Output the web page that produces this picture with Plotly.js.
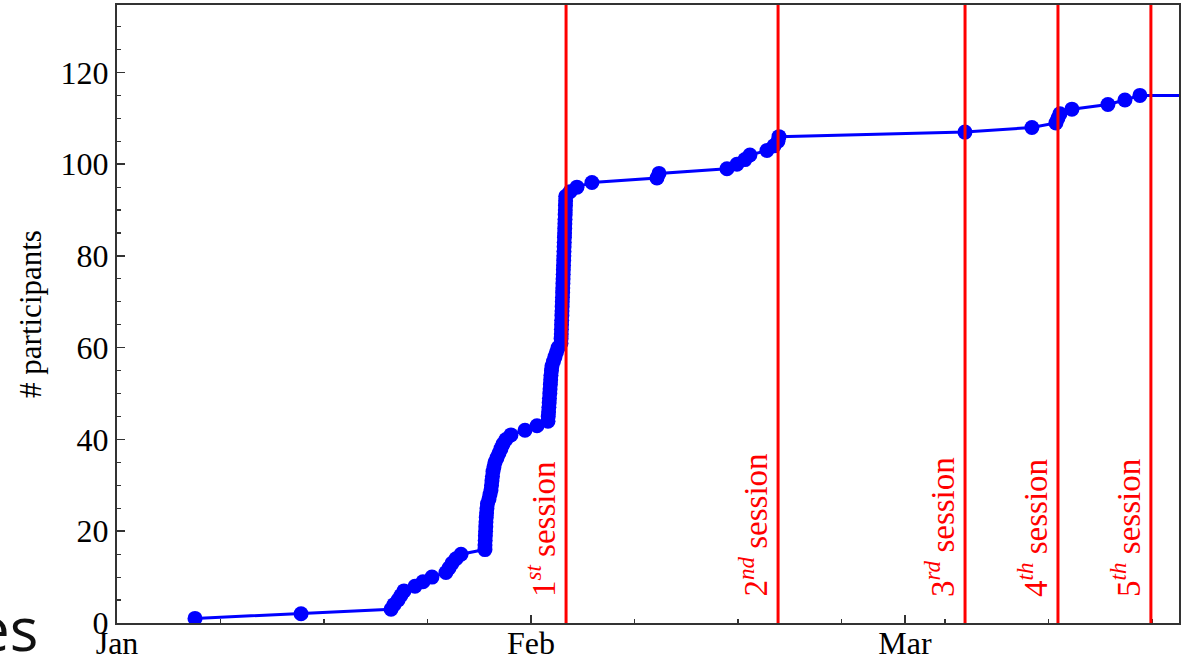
<!DOCTYPE html>
<html>
<head>
<meta charset="utf-8">
<script src="https://cdn.plot.ly/plotly-3.0.1.min.js"></script>
<style>html,body{margin:0;padding:0;background:#fff;}#chart{width:1189px;height:658px;}</style>
</head>
<body>
<div id="chart"></div>
<script>
// registration timestamps
const regDates = [
"2013-01-06 20:10","2013-01-14 18:45","2013-01-21 12:30","2013-01-21 17:45","2013-01-22 01:00",
"2013-01-22 06:15","2013-01-22 11:45","2013-01-23 07:30","2013-01-23 21:50","2013-01-24 14:00",
"2013-01-25 15:10","2013-01-25 20:40","2013-01-26 02:00","2013-01-26 09:10","2013-01-26 18:15",
"2013-01-28 13:15","2013-01-28 13:20","2013-01-28 13:40","2013-01-28 14:00","2013-01-28 14:20",
"2013-01-28 14:45","2013-01-28 15:05","2013-01-28 15:35","2013-01-28 16:10","2013-01-28 16:50",
"2013-01-28 17:45","2013-01-28 20:30","2013-01-28 22:15","2013-01-29 00:05","2013-01-29 01:00",
"2013-01-29 01:50","2013-01-29 02:45","2013-01-29 03:40","2013-01-29 05:25","2013-01-29 07:15",
"2013-01-29 10:50","2013-01-29 14:25","2013-01-29 18:00","2013-01-29 21:35","2013-01-30 03:00",
"2013-01-30 12:00","2013-01-31 13:10","2013-02-01 10:45","2013-02-02 06:30","2013-02-02 07:00",
"2013-02-02 07:35","2013-02-02 08:05","2013-02-02 08:40","2013-02-02 09:10","2013-02-02 09:45",
"2013-02-02 10:15","2013-02-02 10:50","2013-02-02 11:20","2013-02-02 11:50","2013-02-02 12:45",
"2013-02-02 13:40","2013-02-02 16:20","2013-02-02 19:00","2013-02-02 21:45","2013-02-03 00:30",
"2013-02-03 05:50","2013-02-03 06:05","2013-02-03 06:25","2013-02-03 06:40","2013-02-03 06:55",
"2013-02-03 07:10","2013-02-03 07:30","2013-02-03 07:45","2013-02-03 08:00","2013-02-03 08:15",
"2013-02-03 08:35","2013-02-03 08:50","2013-02-03 09:05","2013-02-03 09:20","2013-02-03 09:40",
"2013-02-03 09:55","2013-02-03 10:10","2013-02-03 10:25","2013-02-03 10:45","2013-02-03 11:00",
"2013-02-03 11:15","2013-02-03 11:30","2013-02-03 11:45","2013-02-03 12:05","2013-02-03 12:20",
"2013-02-03 12:35","2013-02-03 12:50","2013-02-03 13:05","2013-02-03 13:25","2013-02-03 13:40",
"2013-02-03 13:55","2013-02-03 14:10","2013-02-03 14:25","2013-02-03 22:00","2013-02-04 10:35",
"2013-02-05 13:30","2013-02-10 10:20","2013-02-10 14:00","2013-02-15 16:10","2013-02-16 10:05",
"2013-02-17 00:30","2013-02-17 09:25","2013-02-18 16:00","2013-02-19 04:35","2013-02-19 11:45",
"2013-02-19 13:35","2013-03-05 11:50","2013-03-10 12:10","2013-03-12 07:20","2013-03-12 10:55",
"2013-03-12 14:30","2013-03-13 12:05","2013-03-16 04:45","2013-03-17 11:20","2013-03-18 14:15"
];
// cumulative number of participants at each timestamp
const regCounts = [
1,2,3,4,5,6,7,8,9,10,11,12,13,14,15,16,17,18,19,20,
21,22,23,24,25,26,27,28,29,30,31,32,33,34,35,36,37,38,39,40,
41,42,43,44,45,46,47,48,49,50,51,52,53,54,55,56,57,58,59,60,
61,62,63,64,65,66,67,68,69,70,71,72,73,74,75,76,77,78,79,80,
81,82,83,84,85,86,87,88,89,90,91,92,93,94,95,96,97,98,99,100,
101,102,103,104,105,106,107,108,109,110,111,112,113,114,115
];
// line continues flat after the last registration
const tailDates = ["2013-03-18 14:15","2013-03-31 00:00"];
const tailCounts = [115,115];

const sessionDates = ["2013-02-03 15:00","2013-02-19 12:00","2013-03-05 12:00","2013-03-12 11:00","2013-03-19 10:00"];
const sessionNums = ["1","2","3","4","5"];
const sessionSuffix = ["st","nd","rd","th","th"];

const monthTickVals = ["2013-01-01","2013-02-01","2013-03-01"];
const monthTickText = ["Jan","Feb","Mar"];
const xRange = ["2013-01-01 00:00","2013-03-21 12:30"];
const yRange = [0, 134.7];

const serif = "Liberation Serif, Times New Roman, serif";

const traces = [
  {x: tailDates, y: tailCounts, type: "scatter", mode: "lines",
   line: {color: "#0000ff", width: 3}, hoverinfo: "skip", showlegend: false},
  {x: regDates, y: regCounts, type: "scatter", mode: "lines+markers",
   line: {color: "#0000ff", width: 3},
   marker: {color: "#0000ff", size: 15, line: {width: 0}}, showlegend: false}
];

const shapes = sessionDates.map(d => ({
  type: "line", xref: "x", yref: "paper", x0: d, x1: d, y0: 0, y1: 1,
  line: {color: "#ff0000", width: 3}, layer: "above"
}));

const annotations = sessionDates.map((d, i) => ({
  x: d, xref: "x", y: 0, yref: "y", xanchor: "right", yanchor: "bottom",
  xshift: -2, yshift: 24, textangle: -90, showarrow: false,
  text: sessionNums[i] + "<sup><i>" + sessionSuffix[i] + "</i></sup> session",
  font: {family: serif, size: 33, color: "#ff0000"}
}));
annotations.push({
  x: -0.0725, xref: "paper", y: -0.008, yref: "paper", xanchor: "right", yanchor: "middle",
  showarrow: false, text: "es", font: {family: "Open Sans, Noto Sans, sans-serif", size: 60, color: "#111"}
});

const axisCommon = {
  showline: true, linecolor: "#333", linewidth: 2, mirror: true,
  showgrid: false, zeroline: false, ticks: "inside", ticklen: 8, tickwidth: 1.5, tickcolor: "#333",
  tickfont: {family: serif, size: 32, color: "#000"}
};

const layout = {
  width: 1189, height: 658,
  margin: {l: 117, r: 10, t: 5, b: 35},
  paper_bgcolor: "#fff", plot_bgcolor: "#fff",
  showlegend: false,
  xaxis: Object.assign({}, axisCommon, {
    type: "date", range: xRange, tickmode: "array",
    tickvals: monthTickVals, ticktext: monthTickText,
    ticklabelstandoff: -9,
    minor: {tickmode: "linear", tick0: "2013-01-01", dtick: 669600000,
            ticks: "inside", ticklen: 4, tickwidth: 1.2, tickcolor: "#333", showgrid: false}
  }),
  yaxis: Object.assign({}, axisCommon, {
    range: yRange, tickmode: "linear", tick0: 0, dtick: 20,
    minor: {tickmode: "linear", tick0: 0, dtick: 5, ticks: "inside", ticklen: 4,
            tickwidth: 1.2, tickcolor: "#333", showgrid: false},
    title: {text: "# participants", font: {family: serif, size: 31, color: "#000"}, standoff: 10}
  }),
  shapes: shapes,
  annotations: annotations
};

Plotly.newPlot("chart", traces, layout, {staticPlot: true, displayModeBar: false});
</script>
</body>
</html>
